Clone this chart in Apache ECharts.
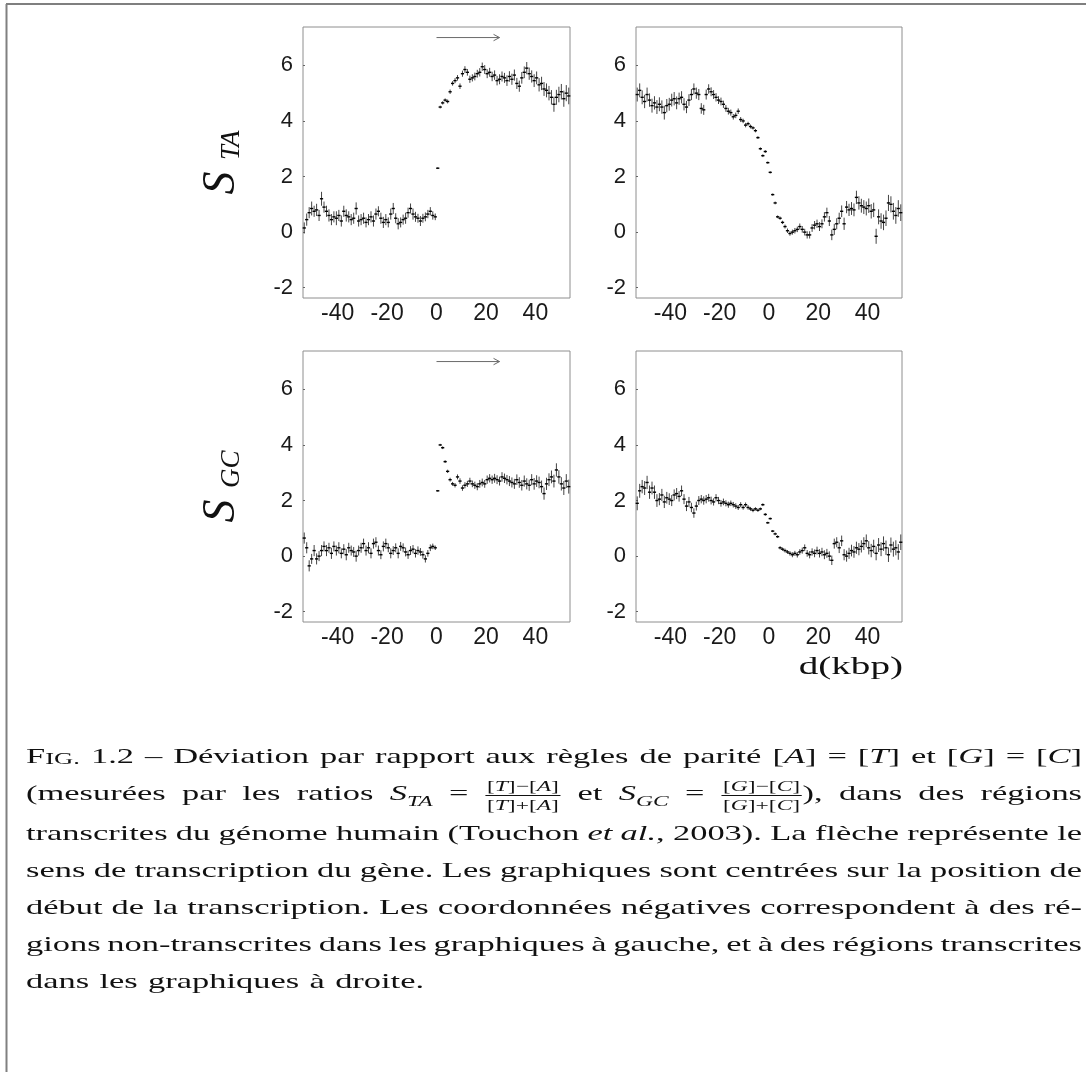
<!DOCTYPE html>
<html><head><meta charset="utf-8">
<script src="https://cdn.jsdelivr.net/npm/echarts@6/dist/echarts.min.js"></script>
<style>html,body{margin:0;padding:0;background:#fff}#c{width:1086px;height:1072px}</style>
</head><body><div id="c"></div>
<script>
// ---------- data ----------
const kbpLeft = [-53.5,-52.5,-51.5,-50.5,-49.5,-48.5,-47.5,-46.5,-45.5,-44.5,
  -43.5,-42.5,-41.5,-40.5,-39.5,-38.5,-37.5,-36.5,-35.5,-34.5,
  -33.5,-32.5,-31.5,-30.5,-29.5,-28.5,-27.5,-26.5,-25.5,-24.5,
  -23.5,-22.5,-21.5,-20.5,-19.5,-18.5,-17.5,-16.5,-15.5,-14.5,
  -13.5,-12.5,-11.5,-10.5,-9.5,-8.5,-7.5,-6.5,-5.5,-4.5,
  -3.5,-2.5,-1.5,-0.5];
const kbpRight = [0.5,1.5,2.5,3.5,4.5,5.5,6.5,7.5,8.5,9.5,
  10.5,11.5,12.5,13.5,14.5,15.5,16.5,17.5,18.5,19.5,
  20.5,21.5,22.5,23.5,24.5,25.5,26.5,27.5,28.5,29.5,
  30.5,31.5,32.5,33.5,34.5,35.5,36.5,37.5,38.5,39.5,
  40.5,41.5,42.5,43.5,44.5,45.5,46.5,47.5,48.5,49.5,
  50.5,51.5,52.5,53.5];

// S_TA, start of transcription (top-left)
const staStartLeft = [0.15,0.45,0.7,0.85,0.75,0.8,0.6,1.2,0.9,0.75,
  0.6,0.45,0.55,0.5,0.6,0.4,0.75,0.6,0.55,0.45,
  0.5,0.85,0.4,0.45,0.5,0.35,0.45,0.55,0.4,0.65,
  0.75,0.5,0.35,0.45,0.35,0.65,0.85,0.5,0.3,0.35,
  0.45,0.5,0.7,0.85,0.65,0.55,0.5,0.4,0.5,0.55,
  0.65,0.75,0.6,0.55];
const staStartRight = [2.3,4.5,4.65,4.75,4.7,5.05,5.35,5.45,5.55,5.25,
  5.7,5.85,5.75,5.5,5.55,5.6,5.7,5.75,5.95,5.85,
  5.7,5.75,5.6,5.65,5.45,5.5,5.6,5.55,5.45,5.6,
  5.5,5.65,5.35,5.25,5.55,5.75,5.9,5.7,5.6,5.45,
  5.55,5.3,5.35,5.15,5.1,5.0,4.85,4.6,4.85,4.95,
  5.05,4.8,5.0,4.9];
const staStartErrLeft = [0.2,0.22,0.2,0.25,0.2,0.22,0.2,0.25,0.2,0.2,
  0.22,0.2,0.2,0.25,0.2,0.2,0.2,0.22,0.2,0.2,
  0.2,0.22,0.2,0.2,0.2,0.18,0.2,0.2,0.2,0.2,
  0.18,0.2,0.2,0.2,0.18,0.2,0.2,0.18,0.2,0.18,
  0.18,0.2,0.18,0.18,0.2,0.18,0.16,0.18,0.16,0.16,
  0.15,0.15,0.15,0.12];
const staStartErrRight = [0.03,0.05,0.06,0.06,0.07,0.08,0.08,0.09,0.1,0.1,
  0.11,0.12,0.12,0.13,0.13,0.14,0.14,0.15,0.15,0.16,
  0.16,0.16,0.17,0.17,0.17,0.18,0.18,0.18,0.19,0.19,
  0.2,0.2,0.2,0.2,0.21,0.21,0.22,0.22,0.22,0.23,
  0.23,0.24,0.24,0.25,0.25,0.26,0.26,0.27,0.27,0.28,
  0.28,0.29,0.29,0.3];

// S_TA, top-right
const staEndLeft = [4.95,5.1,4.85,4.7,4.95,4.75,4.55,4.65,4.5,4.6,
  4.5,4.3,4.55,4.6,4.75,4.8,4.65,4.8,4.85,4.6,
  4.5,4.75,4.95,5.15,5.0,4.95,4.45,4.4,4.95,5.15,
  5.05,4.95,4.85,4.75,4.7,4.6,4.45,4.35,4.3,4.15,
  4.2,4.35,4.05,4.0,3.85,3.9,3.8,3.75,3.65,3.4,
  3.0,2.75,2.9,2.5];
const staEndRight = [2.15,1.35,1.05,0.55,0.5,0.35,0.2,0.05,-0.05,0.0,
  0.05,0.1,0.2,0.1,0.0,-0.1,-0.1,0.15,0.25,0.3,
  0.2,0.3,0.55,0.7,0.4,-0.1,0.1,0.3,0.5,0.75,
  0.3,0.9,0.8,0.85,0.8,1.25,1.05,0.95,0.9,0.85,
  0.95,0.75,0.8,-0.15,0.55,0.4,0.35,0.5,1.05,1.0,
  0.75,0.6,0.85,0.7];
const staEndErrLeft = [0.25,0.25,0.25,0.24,0.25,0.24,0.25,0.24,0.25,0.25,
  0.24,0.25,0.24,0.23,0.23,0.24,0.23,0.22,0.22,0.22,
  0.22,0.21,0.2,0.2,0.2,0.2,0.19,0.18,0.18,0.17,
  0.16,0.16,0.15,0.14,0.14,0.13,0.12,0.12,0.11,0.1,
  0.1,0.1,0.09,0.08,0.08,0.07,0.07,0.06,0.06,0.05,
  0.05,0.05,0.05,0.04];
const staEndErrRight = [0.04,0.04,0.05,0.05,0.06,0.06,0.07,0.08,0.08,0.09,
  0.1,0.1,0.11,0.12,0.12,0.13,0.13,0.14,0.15,0.15,
  0.16,0.16,0.17,0.18,0.18,0.19,0.2,0.2,0.2,0.21,
  0.22,0.22,0.22,0.23,0.23,0.24,0.24,0.25,0.25,0.25,
  0.26,0.26,0.26,0.27,0.27,0.28,0.28,0.28,0.29,0.29,
  0.3,0.3,0.3,0.3];

// S_GC, bottom-left
const sgcStartLeft = [0.65,0.3,-0.35,-0.1,0.2,-0.1,0.0,0.2,0.35,0.2,
  0.3,0.1,0.35,0.2,0.3,0.1,0.25,0.05,0.3,0.2,
  0.15,0.0,0.2,0.3,0.45,0.2,0.3,0.1,0.45,0.5,
  0.2,0.05,0.35,0.45,0.3,0.1,0.2,0.3,0.1,0.35,
  0.3,0.15,0.05,0.2,0.25,0.1,0.2,0.15,0.05,-0.1,
  0.1,0.3,0.35,0.3];
const sgcStartRight = [2.35,4.0,3.9,3.4,3.05,2.75,2.6,2.55,2.85,2.7,
  2.45,2.55,2.6,2.7,2.6,2.55,2.5,2.6,2.65,2.6,
  2.75,2.8,2.75,2.8,2.75,2.7,2.85,2.8,2.75,2.7,
  2.65,2.6,2.75,2.65,2.55,2.7,2.6,2.55,2.75,2.6,
  2.7,2.65,2.5,2.25,2.6,2.75,2.85,2.7,3.1,2.85,
  2.6,2.45,2.7,2.5];
const sgcStartErrLeft = [0.2,0.2,0.2,0.18,0.2,0.2,0.18,0.2,0.18,0.2,
  0.18,0.2,0.18,0.18,0.2,0.18,0.18,0.2,0.18,0.18,
  0.18,0.2,0.18,0.18,0.18,0.18,0.2,0.18,0.18,0.18,
  0.18,0.16,0.18,0.18,0.16,0.18,0.16,0.16,0.18,0.16,
  0.16,0.16,0.15,0.16,0.15,0.15,0.15,0.14,0.14,0.13,
  0.12,0.12,0.1,0.08];
const sgcStartErrRight = [0.03,0.04,0.05,0.05,0.06,0.07,0.07,0.08,0.09,0.1,
  0.1,0.11,0.11,0.12,0.12,0.13,0.13,0.14,0.14,0.14,
  0.15,0.15,0.15,0.16,0.16,0.16,0.17,0.17,0.17,0.18,
  0.18,0.18,0.19,0.19,0.19,0.2,0.2,0.2,0.2,0.21,
  0.21,0.21,0.22,0.22,0.22,0.23,0.23,0.23,0.24,0.24,
  0.24,0.25,0.25,0.25];

// S_GC, bottom-right
const sgcEndLeft = [1.9,2.35,2.5,2.45,2.65,2.3,2.45,2.3,2.0,2.05,
  2.2,1.95,2.1,2.05,2.0,2.2,2.25,2.15,2.35,2.05,
  1.8,1.95,1.75,1.55,1.8,2.0,2.05,2.0,2.05,2.1,
  2.0,1.95,2.1,2.0,1.9,1.95,1.9,1.85,1.9,1.85,
  1.8,1.75,1.85,1.75,1.85,1.75,1.7,1.65,1.7,1.65,
  1.7,1.85,1.5,1.2];
const sgcEndRight = [1.35,0.9,0.8,0.7,0.3,0.25,0.2,0.15,0.1,0.05,
  0.1,0.05,0.15,0.2,0.3,0.1,0.05,0.15,0.1,0.2,
  0.1,0.15,0.05,0.1,0.0,-0.15,0.45,0.5,0.3,0.55,
  0.05,0.0,0.1,0.2,0.15,0.3,0.25,0.35,0.45,0.55,
  0.3,0.2,0.35,0.1,0.4,0.25,0.45,0.3,0.05,0.4,
  0.25,0.3,0.15,0.5];
const sgcEndErrLeft = [0.25,0.25,0.24,0.25,0.24,0.24,0.23,0.24,0.23,0.22,
  0.22,0.22,0.21,0.21,0.2,0.2,0.2,0.19,0.19,0.18,
  0.18,0.18,0.17,0.17,0.16,0.16,0.15,0.15,0.15,0.14,
  0.14,0.13,0.13,0.13,0.12,0.12,0.11,0.11,0.1,0.1,
  0.1,0.09,0.09,0.08,0.08,0.08,0.07,0.07,0.06,0.06,
  0.05,0.05,0.05,0.04];
const sgcEndErrRight = [0.04,0.04,0.05,0.05,0.06,0.06,0.07,0.07,0.08,0.09,
  0.09,0.1,0.1,0.11,0.12,0.12,0.13,0.13,0.14,0.14,
  0.15,0.15,0.16,0.16,0.17,0.17,0.18,0.18,0.19,0.19,
  0.2,0.2,0.2,0.21,0.21,0.22,0.22,0.22,0.23,0.23,
  0.24,0.24,0.24,0.25,0.25,0.25,0.26,0.26,0.26,0.27,
  0.27,0.27,0.28,0.28];

const xTicks = [-40, -20, 0, 20, 40];
const yTicks = [-2, 0, 2, 4, 6];
const arrowFrom = 0, arrowTo = 25.5, arrowLevel = 7;
const rowNames = [['S', 'TA'], ['S', 'GC']];
const xUnit = 'd(kbp)';

const captionLines = [
  'F{sc:IG.} 1.2 – Déviation par rapport aux règles de parité [{it:A}] = [{it:T}] et [{it:G}] = [{it:C}]',
  '(mesurées par les ratios {it:S}{sub:TA} = {frac:TA} et {it:S}{sub:GC} = {frac:GC}), dans des régions',
  'transcrites du génome humain (Touchon {it:et} {it:al.}, 2003). La flèche représente le',
  'sens de transcription du gène. Les graphiques sont centrées sur la position de',
  'début de la transcription. Les coordonnées négatives correspondent à des ré-',
  'gions non-transcrites dans les graphiques à gauche, et à des régions transcrites',
  'dans les graphiques à droite.'
];

// ---------- build ----------
const panels = [
  [staStartLeft, staStartRight, staStartErrLeft, staStartErrRight],
  [staEndLeft, staEndRight, staEndErrLeft, staEndErrRight],
  [sgcStartLeft, sgcStartRight, sgcStartErrLeft, sgcStartErrRight],
  [sgcEndLeft, sgcEndRight, sgcEndErrLeft, sgcEndErrRight]
];
const xs = kbpLeft.concat(kbpRight);
function panelData(p) {
  const v = p[0].concat(p[1]), e = p[2].concat(p[3]);
  return xs.map((x, i) => [x, v[i], e[i]]);
}

const grids = [
  {left: 303, top: 27, width: 267, height: 271},
  {left: 636, top: 27, width: 266, height: 271},
  {left: 303, top: 351, width: 267, height: 271},
  {left: 636, top: 351, width: 266, height: 271}
].map(g => Object.assign(g, {show: true, borderColor: '#8e8e8e', borderWidth: 1, backgroundColor: '#fff', containLabel: false}));

const tickFont = '"Liberation Sans","Arial",sans-serif';
const serif = '"Liberation Serif","Times New Roman",serif';

const xAxes = grids.map((g, i) => ({
  type: 'value', gridIndex: i, min: -54, max: 54,
  axisLine: {show: false, onZero: false}, axisTick: {show: false}, splitLine: {show: false},
  axisLabel: {
    customValues: xTicks, margin: 4, fontSize: 23, fontFamily: tickFont, color: '#1a1a1a',
    formatter: v => (v < 0 ? '-' + Math.abs(v) : String(v))
  }
}));
const yAxes = grids.map((g, i) => {
  const ax = {
    type: 'value', gridIndex: i, min: -2.37, max: 7.38,
    axisLine: {show: false, onZero: false}, splitLine: {show: false},
    axisTick: {show: true, inside: true, length: 2, customValues: yTicks, lineStyle: {color: '#666'}},
    axisLabel: {customValues: yTicks, margin: 10, fontSize: 22, fontFamily: tickFont, color: '#1a1a1a',
      formatter: v => (v < 0 ? '-' + Math.abs(v) : String(v))}
  };
  if (i % 2 === 0) {
    const nm = rowNames[i / 2];
    ax.name = '{s|' + nm[0] + ' }{t|' + nm[1] + '}';
    ax.nameLocation = 'middle';
    ax.nameRotate = 90;
    ax.nameGap = 58;
    ax.nameMoveOverlap = false;
    ax.nameTextStyle = {rich: {
      s: {fontFamily: serif, fontStyle: 'italic', fontSize: 46, color: '#111', verticalAlign: 'bottom'},
      t: {fontFamily: serif, fontStyle: 'italic', fontSize: 27, color: '#111', verticalAlign: 'bottom'}
    }};
  }
  return ax;
});

function renderBar(params, api) {
  const x = api.value(0), y = api.value(1), e = api.value(2);
  const c = api.coord([x, y]), lo = api.coord([x, y - e]), hi = api.coord([x, y + e]);
  return {type: 'group', children: [
    {type: 'line', shape: {x1: c[0], y1: hi[1], x2: c[0], y2: lo[1]}, style: {stroke: '#444', lineWidth: 1}},
    {type: 'line', shape: {x1: c[0] - 1.6, y1: c[1], x2: c[0] + 1.6, y2: c[1]}, style: {stroke: '#000', lineWidth: 1.4}}
  ]};
}
function renderArrow(params, api) {
  const p0 = api.coord([api.value(0), api.value(1)]);
  const p1 = api.coord([api.value(2), api.value(1)]);
  return {type: 'group', children: [
    {type: 'line', shape: {x1: p0[0], y1: p0[1], x2: p1[0], y2: p1[1]}, style: {stroke: '#6a6a6a', lineWidth: 1}},
    {type: 'polyline', shape: {points: [[p1[0] - 6, p1[1] - 3.2], [p1[0], p1[1]], [p1[0] - 6, p1[1] + 3.2]]}, style: {stroke: '#6a6a6a', lineWidth: 1, fill: 'none'}}
  ]};
}

const series = panels.map((p, i) => ({
  type: 'custom', xAxisIndex: i, yAxisIndex: i, renderItem: renderBar,
  data: panelData(p), encode: {x: 0, y: 1}, animation: false, silent: true
}));
[0, 2].forEach(i => series.push({
  type: 'custom', xAxisIndex: i, yAxisIndex: i, renderItem: renderArrow,
  data: [[arrowFrom, arrowLevel, arrowTo]], encode: {x: [0, 2], y: 1}, animation: false, silent: true
}));

// ---------- caption layout ----------
const FS = 22, FSS = 15, FSC = 17;
const capLeft = 26, capWidth = 1056;
const capBaselines = [765, 802, 842, 879, 916, 953, 990];
const mctx = document.createElement('canvas').getContext('2d');
function tw(t, size, it) { mctx.font = (it ? 'italic ' : '') + size + 'px ' + serif; return mctx.measureText(t).width; }
function splitWords(line) {
  const out = []; let cur = '', depth = 0;
  for (const ch of line) {
    if (ch === '{') depth++;
    if (ch === '}') depth--;
    if (ch === ' ' && depth === 0) { if (cur) out.push(cur); cur = ''; } else cur += ch;
  }
  if (cur) out.push(cur);
  return out;
}
function parseRuns(word) {
  const re = /\{(\w+):([^}]*)\}|([^{]+)/g; const runs = []; let m;
  while ((m = re.exec(word))) { if (m[3]) runs.push({k: 'rm', t: m[3]}); else runs.push({k: m[1], t: m[2]}); }
  return runs;
}
function layoutWord(word) {
  const items = [], bars = []; let x = 0;
  for (const r of parseRuns(word)) {
    if (r.k === 'frac') {
      const P = r.t[0], Q = r.t[1];
      const mk = op => [['[', false], [P, true], [']' + op + '[', false], [Q, true], [']', false]];
      const num = mk('\u2212'), den = mk('+');
      const wOf = a => a.reduce((s, q) => s + tw(q[0], FSS, q[1]), 0);
      const wn = wOf(num), wd = wOf(den), W = Math.max(wn, wd) + 3;
      const place = (arr, w, dy) => { let xx = x + (W - w) / 2; for (const q of arr) { items.push({t: q[0], x: xx, dy, size: FSS, it: q[1]}); xx += tw(q[0], FSS, q[1]); } };
      place(num, wn, -10); place(den, wd, 9);
      bars.push({x1: x + 0.5, x2: x + W - 0.5, dy: -6.5});
      x += W;
    } else {
      const size = r.k === 'sc' ? FSC : r.k === 'sub' ? FSS : FS;
      const it = r.k === 'it' || r.k === 'sub';
      const dy = r.k === 'sub' ? 5 : 0;
      items.push({t: r.t, x, dy, size, it});
      x += tw(r.t, size, it);
    }
  }
  return {items, bars, width: x};
}
const laid = captionLines.map(l => splitWords(l).map(layoutWord));
const natGap = 0.3 * FS;
const scales = laid.slice(0, -1).map(ws => {
  const W = ws.reduce((s, w) => s + w.width, 0);
  return capWidth / (W + (ws.length - 1) * natGap);
});
const S = scales.reduce((a, b) => a + b, 0) / scales.length;
const graphics = [];
laid.forEach((ws, li) => {
  const W = ws.reduce((s, w) => s + w.width, 0);
  const gap = li < laid.length - 1 ? (capWidth / S - W) / (ws.length - 1) : natGap;
  const base = capBaselines[li];
  const children = [];
  let pos = 0;
  ws.forEach(w => {
    w.items.forEach(it => children.push({type: 'text', x: pos + it.x, y: base + it.dy - 0.34 * it.size, silent: true,
      style: {text: it.t, fontSize: it.size, fontFamily: serif, fontStyle: it.it ? 'italic' : 'normal', fill: '#111', align: 'left', verticalAlign: 'middle'}}));
    w.bars.forEach(b => children.push({type: 'line', silent: true, shape: {x1: pos + b.x1, y1: base + b.dy, x2: pos + b.x2, y2: base + b.dy}, style: {stroke: '#111', lineWidth: 0.9}}));
    pos += w.width + gap;
  });
  graphics.push({type: 'group', x: capLeft, y: 0, scaleX: S, children});
});
// x-axis unit label
graphics.push({type: 'group', x: 903, y: 0, scaleX: S, children: [
  {type: 'text', x: 0, y: 667, silent: true, style: {text: xUnit, fontSize: 25, fontFamily: serif, fill: '#111', align: 'right', verticalAlign: 'middle'}}
]});
// page frame (top and left rules)
graphics.push({type: 'line', silent: true, shape: {x1: 6, y1: 4, x2: 1086, y2: 4}, style: {stroke: '#555', lineWidth: 1.5}});
graphics.push({type: 'line', silent: true, shape: {x1: 6.5, y1: 4, x2: 6.5, y2: 1072}, style: {stroke: '#808080', lineWidth: 2}});

const chart = echarts.init(document.getElementById('c'), null, {renderer: 'canvas'});
chart.setOption({
  animation: false,
  backgroundColor: '#fff',
  grid: grids, xAxis: xAxes, yAxis: yAxes, series,
  graphic: graphics
});
</script></body></html>
